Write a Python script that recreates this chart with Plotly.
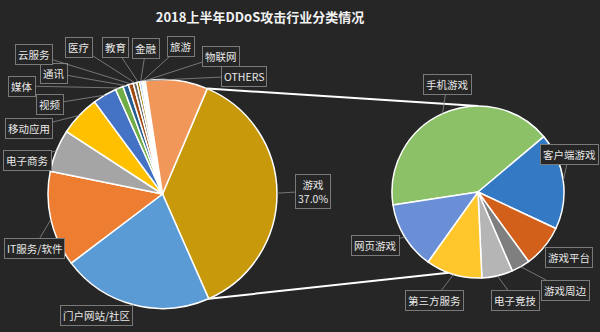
import math
import plotly.graph_objects as go

# ---------------- data ----------------
industries = ["游戏", "门户网站/社区", "IT服务/软件", "电子商务", "移动应用", "视频",
              "媒体", "通讯", "云服务", "医疗", "教育", "金融", "旅游", "物联网", "OTHERS"]
industry_share = [37.0, 21.3, 13.5, 6.0, 5.7, 3.4,
                  1.1, 0.8, 0.7, 0.5, 0.4, 0.3, 0.2, 0.3, 8.8]

game_types = ["手机游戏", "客户端游戏", "游戏平台", "游戏周边", "电子竞技", "第三方服务", "网页游戏"]
game_share = [41.3, 18.1, 8.0, 3.5, 5.8, 10.6, 12.7]

title_text = "2018上半年DDoS攻击行业分类情况"

# ---------------- style / layout ----------------
W, H = 600, 332
BG = "#262626"
FONT = "Noto Sans CJK SC"

left_colors = ["#C8990A", "#5B9BD5", "#ED7D31", "#A5A5A5", "#FFC000", "#4472C4",
               "#70AD47", "#255E91", "#9E480E", "#636363", "#997300", "#7CAFDD",
               "#C9C9C9", "#F2F2F2", "#F1975A"]
right_colors = ["#8CC168", "#3479C4", "#D3601A", "#7F7F7F", "#B5B5B5", "#FFC72C", "#6A8FD6"]

L_C, L_R, L_ROT = (162.5, 194.0), 114.5, 23.0
R_C, R_R, R_ROT = (478.0, 192.0), 86.0, 261.3

# label box centres (pixels)
left_label_pos = {
    "游戏": (313, 191), "门户网站/社区": (96, 315), "IT服务/软件": (34, 248),
    "电子商务": (27, 160), "移动应用": (29, 128), "视频": (50, 104),
    "媒体": (22, 86), "通讯": (54, 73), "云服务": (34, 54), "医疗": (79, 47),
    "教育": (115, 47), "金融": (146, 48), "旅游": (181, 46), "物联网": (221, 56),
    "OTHERS": (244, 76),
}
right_label_pos = {
    "手机游戏": (447, 84), "客户端游戏": (569, 154), "游戏平台": (569, 257),
    "游戏周边": (565, 290), "电子竞技": (515, 300), "第三方服务": (434, 300),
    "网页游戏": (375, 245),
}


def domain(c, r):
    return dict(x=[(c[0] - r) / W, (c[0] + r) / W],
                y=[1 - (c[1] + r) / H, 1 - (c[1] - r) / H])


def point(c, r, ang):
    a = math.radians(ang)
    return c[0] + r * math.sin(a), c[1] - r * math.cos(a)


def slice_angles(vals, rot):
    tot = sum(vals)
    out, cum = [], 0.0
    for v in vals:
        out.append((rot + 360 * cum / tot, rot + 360 * (cum + v) / tot))
        cum += v
    return out


fig = go.Figure()
fig.add_trace(go.Pie(
    labels=industries, values=industry_share, sort=False, direction="clockwise",
    rotation=L_ROT, domain=domain(L_C, L_R), textinfo="none", hoverinfo="label+percent",
    marker=dict(colors=left_colors, line=dict(color="white", width=1.5)),
    showlegend=False))
fig.add_trace(go.Pie(
    labels=game_types, values=game_share, sort=False, direction="clockwise",
    rotation=R_ROT, domain=domain(R_C, R_R), textinfo="none", hoverinfo="label+percent",
    marker=dict(colors=right_colors, line=dict(color="white", width=1.5)),
    showlegend=False))

annotations = []


def add_label(text, pos, target):
    annotations.append(dict(
        x=target[0], y=target[1], ax=pos[0], ay=pos[1], xref="x", yref="y",
        axref="x", ayref="y", text=text, showarrow=True, arrowhead=0,
        arrowwidth=0.8, arrowcolor="#8a8a8a", standoff=0, startstandoff=0,
        bgcolor=BG, bordercolor="#7a7a7a", borderwidth=1, borderpad=2,
        font=dict(family=FONT, size=10.5, color="#e8e8e8"), align="center"))


la = slice_angles(industry_share, L_ROT)
for name, val, (a0, a1) in zip(industries, industry_share, la):
    if name == "OTHERS":
        ang = a0 + 0.5
    else:
        ang = (a0 + a1) / 2
    tgt = point(L_C, L_R, ang)
    txt = name if name != "游戏" else f"{name}<br>{val:.1f}%"
    add_label(txt, left_label_pos[name], tgt)

ra = slice_angles(game_share, R_ROT)
for name, (a0, a1) in zip(game_types, ra):
    tgt = point(R_C, R_R, (a0 + a1) / 2)
    add_label(name, right_label_pos[name], tgt)

# connector lines from the 游戏 slice to the secondary pie
g0, g1 = la[0]
p_top = point(L_C, L_R, g0)
p_bot = point(L_C, L_R, g1)
q_top = point(R_C, R_R, 0)
q_bot = point(R_C, R_R, 200)
shapes = [
    dict(type="line", xref="x", yref="y", x0=p_top[0], y0=p_top[1], x1=q_top[0], y1=q_top[1],
         line=dict(color="white", width=2), layer="below"),
    dict(type="line", xref="x", yref="y", x0=p_bot[0], y0=p_bot[1], x1=q_bot[0], y1=q_bot[1],
         line=dict(color="white", width=2), layer="below"),
]

fig.update_layout(
    width=W, height=H, margin=dict(l=0, r=0, t=0, b=0),
    paper_bgcolor=BG, plot_bgcolor=BG,
    title=dict(text=f"<b>{title_text}</b>", x=260 / W, xanchor="center", y=1 - 17 / H,
               yanchor="middle", font=dict(family=FONT, size=13, color="#f2f2f2")),
    xaxis=dict(range=[0, W], visible=False, domain=[0, 1], fixedrange=True),
    yaxis=dict(range=[H, 0], visible=False, domain=[0, 1], fixedrange=True),
    annotations=annotations, shapes=shapes, showlegend=False,
)

fig.write_html("out.html")
